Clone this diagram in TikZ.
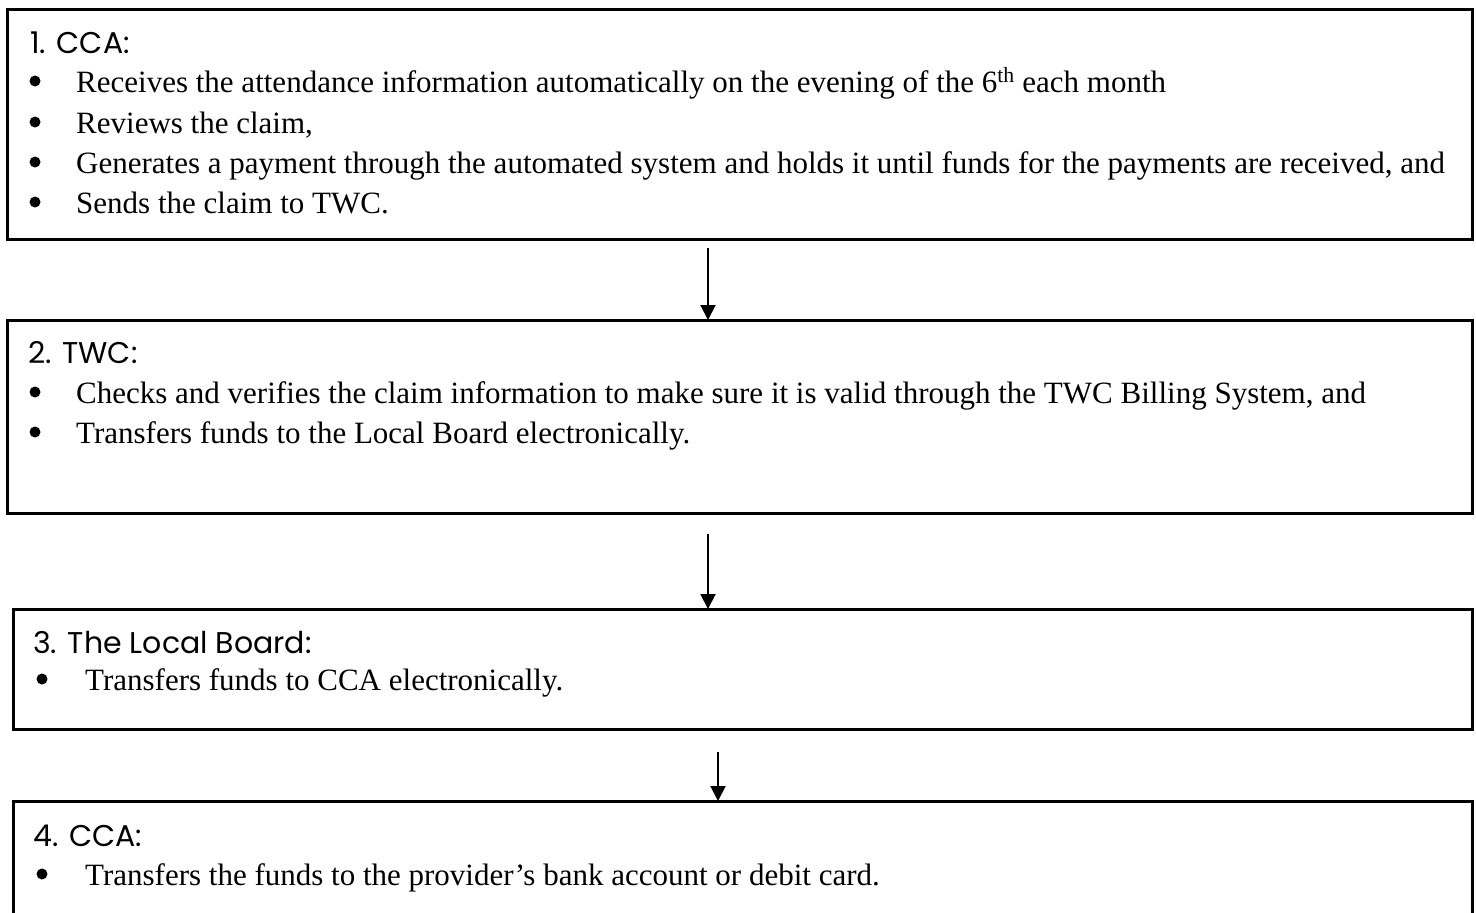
\documentclass[tikz,border=0pt]{standalone}
\usepackage{fontspec}
\setmainfont{Liberation Serif}
\newfontfamily\headfont{Poppins}
\usetikzlibrary{arrows.meta}
\begin{document}
\begin{tikzpicture}[x=1pt,y=-1pt,
  stepbox/.style={draw, line width=3pt, rectangle, inner sep=0pt, outer sep=0pt, anchor=north west},
  head/.style={inner sep=0pt, anchor=base west, font=\headfont\fontsize{30}{36}\selectfont},
  bul/.style={circle, fill, inner sep=0pt, minimum size=11pt},
  txt/.style={inner sep=0pt, anchor=base west, font=\fontsize{31}{37}\selectfont},
  flow/.style={line width=2pt, -{Triangle[length=15pt,width=15pt]}}]
\useasboundingbox (0,0) rectangle (1476,913);
\clip (0,0) rectangle (1476,913);
% boxes
\node[stepbox, minimum width=1465pt, minimum height=230pt] (b1) at (7,9) {};
\node[stepbox, minimum width=1465pt, minimum height=193pt] (b2) at (7,320) {};
\node[stepbox, minimum width=1459pt, minimum height=120pt] (b3) at (13,609) {};
\node[stepbox, minimum width=1459pt, minimum height=160pt] (b4) at (13,801) {};
% box 1
\node[head] (h1) at (30,53) {1. CCA:};
\node[bul] (p11) at (35,81) {};
\node[txt] (t11) at (76,92) {Receives the attendance information automatically on the evening of the 6\textsuperscript{th} each month};
\node[bul] (p12) at (35,122) {};
\node[txt] (t12) at (76,133) {Reviews the claim,};
\node[bul] (p13) at (35,162) {};
\node[txt] (t13) at (76,173) {Generates a payment through the automated system and holds it until funds for the payments are received, and};
\node[bul] (p14) at (35,202) {};
\node[txt] (t14) at (76,213) {Sends the claim to TWC.};
% box 2
\node[head] (h2) at (28,363) {2. TWC:};
\node[bul] (p21) at (35,392) {};
\node[txt] (t21) at (76,403) {Checks and verifies the claim information to make sure it is valid through the TWC Billing System, and};
\node[bul] (p22) at (35,432) {};
\node[txt] (t22) at (76,443) {Transfers funds to the Local Board electronically.};
% box 3
\node[head] (h3) at (33,653) {3. The Local Board:};
\node[bul] (p31) at (42,679) {};
\node[txt] (t31) at (85,690) {Transfers funds to CCA electronically.};
% box 4
\node[head] (h4) at (33,846) {4. CCA:};
\node[bul] (p41) at (42,874) {};
\node[txt] (t41) at (85,885) {Transfers the funds to the provider’s bank account or debit card.};
% arrows
\coordinate (a1) at (708,248);
\coordinate (a2) at (708,534);
\coordinate (a3) at (718,752);
\draw[flow] (a1) -- (a1 |- b2.north);
\draw[flow] (a2) -- (a2 |- b3.north);
\draw[flow] (a3) -- (a3 |- b4.north);
\end{tikzpicture}
\end{document}
